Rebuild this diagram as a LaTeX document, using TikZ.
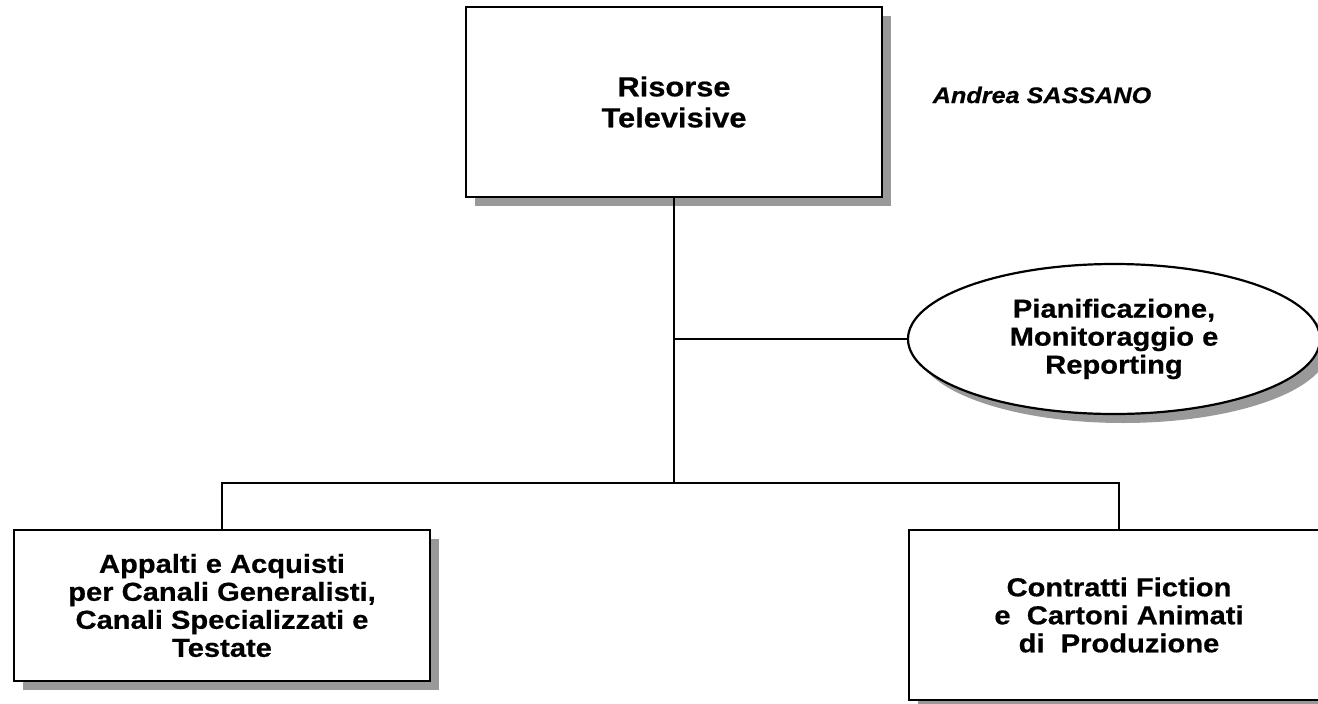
\documentclass[tikz,border=0pt]{standalone}
\usepackage{fontspec}
\setmainfont{Liberation Sans}[FakeStretch=1.12, BoldFeatures={FakeBold=0.6}, BoldItalicFeatures={FakeBold=0.6}]
\usetikzlibrary{shapes.geometric,shadows}
\begin{document}
\begin{tikzpicture}[x=1pt,y=-1pt,
  unit/.style={draw=black, line width=2.2pt, fill=white, inner sep=0pt, align=center,
    font=\bfseries\fontsize{26}{28}\selectfont,
    drop shadow={shadow xshift=9pt, shadow yshift=-9pt, opacity=1, fill=black!40}},
  conn/.style={line width=2pt}]
\useasboundingbox (0,0) rectangle (1318,704);
\clip (0,0) rectangle (1318,704);
\node[unit, rectangle, minimum width=416pt, minimum height=190pt,
  font=\bfseries\fontsize{27.5}{31}\selectfont] (top) at (674,102) {Risorse\\Televisive};
\node[unit, ellipse, minimum width=412pt, minimum height=150pt] (ell) at (1114,339)
  {Pianificazione,\\Monitoraggio e\\Reporting};
\node[unit, rectangle, minimum width=416pt, minimum height=151pt] (left) at (222,605.5)
  {Appalti e Acquisti\\per Canali Generalisti,\\Canali Specializzati e\\Testate};
\node[unit, rectangle, minimum width=420pt, minimum height=170pt] (right) at (1119,615)
  {Contratti Fiction\\e \ Cartoni Animati\\di \ Produzione};
\node[font=\bfseries\itshape\fontsize{22.5}{26}\selectfont, anchor=center] (name) at (1042,95) {Andrea SASSANO};
\coordinate (jb) at (674,483);
\draw[conn] (top.south) -- (jb);
\draw[conn] (top.south |- ell.west) -- (ell.west);
\draw[conn] (left.north) |- (jb) -| (right.north);
\end{tikzpicture}
\end{document}
